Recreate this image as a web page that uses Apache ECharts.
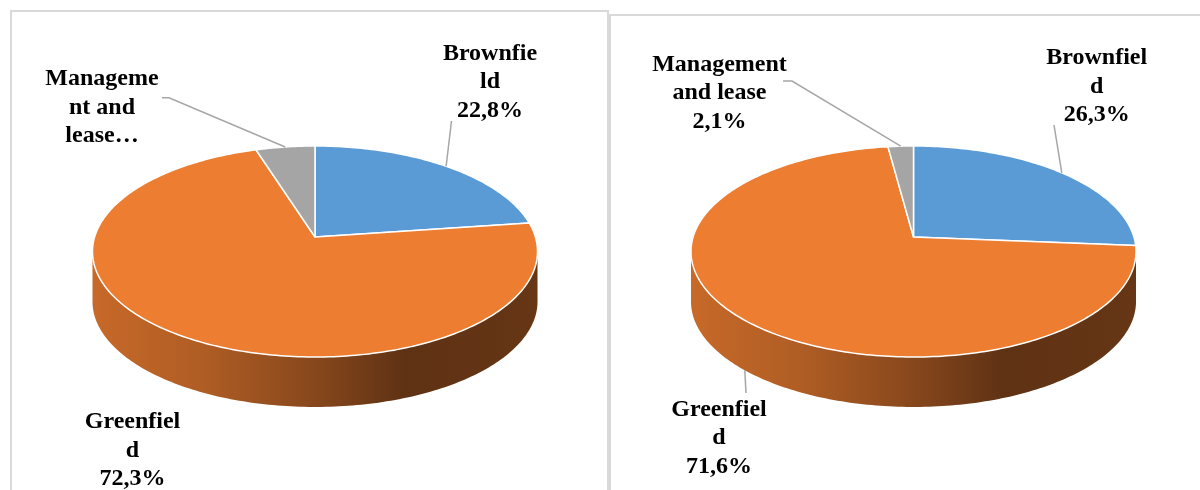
<!DOCTYPE html>
<html>
<head>
<meta charset="utf-8">
<script src="https://cdn.jsdelivr.net/npm/echarts@6/dist/echarts.min.js"></script>
<style>
  html, body { margin: 0; padding: 0; background: #fff; }
  #chart { width: 1200px; height: 490px; }
</style>
</head>
<body>
<div id="chart"></div>
<script>
// Project types, shares in percent
const categories = ['Brownfield', 'Greenfield', 'Management and lease'];
const sliceColors = ['#5b9bd5', '#ed7d31', '#a5a5a5'];

const leftValues = [22.8, 72.3, 4.9];
const rightValues = [26.3, 71.6, 2.1];

// Label text as wrapped in the narrow label boxes
const leftLabels = ['Brownfie\nld', 'Greenfiel\nd', 'Manageme\nnt and\nlease…'];
const rightLabels = ['Brownfiel\nd', 'Greenfiel\nd', 'Management\nand lease'];
const leftShowValue = [true, true, false];
const rightShowValue = [true, true, true];

// ---- layout ----
const geom = { cy: 237, A: 220.4, B: 103.5, k: 0.1375, depth: 50 };
const labelFont = { size: 24, lineHeight: 28.6, baseOffset: 7.3 };

const pies = [
  {
    cx: 315,
    values: leftValues, labels: leftLabels, showValue: leftShowValue,
    labelPos: [[490, 60.7], [132.5, 429], [102, 86]],
    leaders: [
      { from: [[451.5, 121]], end: 'top' },
      null,
      { from: [[162, 97.7], [169, 97.7]], end: 'top' }
    ]
  },
  {
    cx: 913.5,
    values: rightValues, labels: rightLabels, showValue: rightShowValue,
    labelPos: [[1096.7, 65], [719, 416.7], [719.5, 71.7]],
    leaders: [
      { from: [[1054, 125]], end: 'top' },
      { from: [[746, 393]], end: 'bottom' },
      { from: [[783, 81], [792, 81]], end: 'top' }
    ]
  }
];

// perspective projection of a point on the pie rim; angle clockwise from 12 o'clock
function proj(cx, deg, dy) {
  const r = deg * Math.PI / 180;
  const s = Math.sin(r), c = Math.cos(r);
  const den = 1 + geom.k * c;
  return [cx + geom.A * s / den, geom.cy + dy - geom.B * c / den];
}

function arc(cx, a, b, dy) {
  const n = Math.max(2, Math.ceil(Math.abs(b - a)));
  const pts = [];
  for (let i = 0; i <= n; i++) pts.push(proj(cx, a + (b - a) * i / n, dy));
  return pts;
}

function shade(hex, f) {
  const n = parseInt(hex.slice(1), 16);
  const r = Math.round(((n >> 16) & 255) * f);
  const g = Math.round(((n >> 8) & 255) * f);
  const b = Math.round((n & 255) * f);
  return 'rgb(' + r + ',' + g + ',' + b + ')';
}

function fmtPct(v) { return v.toFixed(1).replace('.', ',') + '%'; }

// the side wall is visible between the two silhouette angles
const frontFrom = Math.acos(-geom.k) * 180 / Math.PI;
const frontTo = 360 - frontFrom;

function buildData(values) {
  const total = values.reduce((s, v) => s + v, 0);
  let acc = 0;
  return values.map((v, i) => {
    const start = acc / total * 100;
    acc += v;
    return { name: categories[i], value: [v, start, acc / total * 100] };
  });
}

function makeRender(pie) {
  return function (params, api) {
    const i = params.dataIndex;
    const v = api.value(0);
    const a = api.value(1) * 3.6;
    const b = api.value(2) * 3.6;
    const cx = pie.cx;
    const color = sliceColors[i];
    const children = [];

    // side wall
    const lo = Math.max(a, frontFrom), hi = Math.min(b, frontTo);
    if (hi > lo) {
      const top = arc(cx, lo, hi, 0);
      const bottom = arc(cx, hi, lo, geom.depth);
      const x0 = cx - geom.A - 3, x1 = cx + geom.A + 3;
      children.push({
        type: 'polygon',
        shape: { points: top.concat(bottom) },
        style: {
          fill: {
            type: 'linear', x: x0, y: 0, x2: x1, y2: 0, global: true,
            colorStops: [
              { offset: 0, color: shade(color, 0.84) },
              { offset: 0.25, color: shade(color, 0.74) },
              { offset: 0.5, color: shade(color, 0.57) },
              { offset: 0.7, color: shade(color, 0.40) },
              { offset: 1, color: shade(color, 0.43) }
            ]
          },
          stroke: null
        }
      });
    }

    // top face
    const face = [[cx, geom.cy]].concat(arc(cx, a, b, 0));
    children.push({
      type: 'polygon',
      shape: { points: face },
      style: { fill: color, stroke: '#ffffff', lineWidth: 1.5, lineJoin: 'round' }
    });

    // leader line
    const ld = pie.leaders[i];
    if (ld) {
      const mid = (a + b) / 2;
      const endPt = proj(cx, mid, ld.end === 'bottom' ? geom.depth : 0);
      children.push({
        type: 'polyline',
        shape: { points: ld.from.concat([endPt]) },
        style: { stroke: '#a6a6a6', lineWidth: 1.5, fill: null }
      });
    }

    // data label
    const pos = pie.labelPos[i];
    let text = pie.labels[i];
    if (pie.showValue[i]) text += '\n' + fmtPct(v);
    children.push({
      type: 'text',
      style: {
        text: text,
        x: pos[0],
        y: pos[1] - labelFont.baseOffset - labelFont.lineHeight / 2,
        align: 'center',
        verticalAlign: 'top',
        fontSize: labelFont.size,
        fontWeight: 'bold',
        fontFamily: '"Liberation Serif", "Times New Roman", serif',
        lineHeight: labelFont.lineHeight,
        fill: '#000000'
      }
    });

    return { type: 'group', children: children };
  };
}

const chart = echarts.init(document.getElementById('chart'), null, { renderer: 'canvas' });

chart.setOption({
  backgroundColor: '#ffffff',
  animation: false,
  graphic: [
    {
      type: 'rect', silent: true,
      shape: { x: 11, y: 11, width: 597, height: 520 },
      style: { fill: null, stroke: '#d9d9d9', lineWidth: 2 }
    },
    {
      type: 'rect', silent: true,
      shape: { x: 610, y: 15, width: 620, height: 520 },
      style: { fill: null, stroke: '#d9d9d9', lineWidth: 2 }
    },
    {
      // caption line above the panels, running off the top edge
      type: 'text', silent: true,
      style: {
        text: 'projects', x: 184, y: 1,
        verticalAlign: 'bottom',
        fontSize: 24, fontWeight: 'bold',
        fontFamily: '"Liberation Serif", serif',
        fill: '#000000'
      }
    }
  ],
  series: pies.map(pie => ({
    type: 'custom',
    coordinateSystem: 'none',
    silent: true,
    data: buildData(pie.values),
    renderItem: makeRender(pie)
  }))
});
</script>
</body>
</html>
